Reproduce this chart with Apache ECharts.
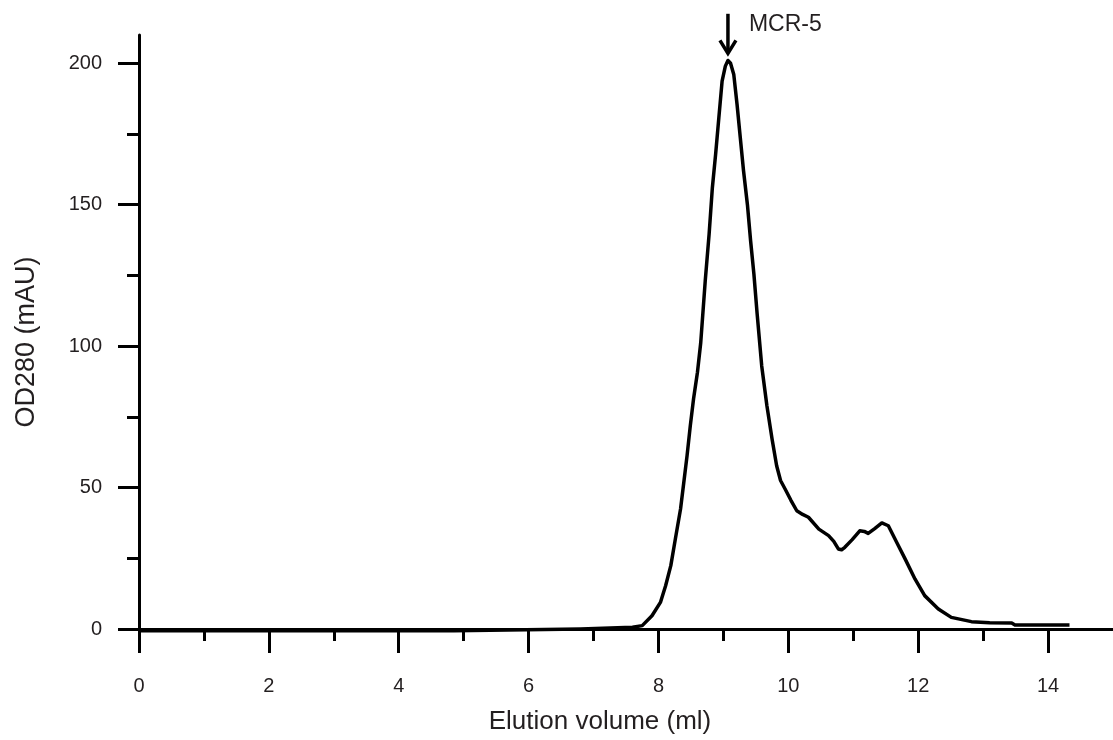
<!DOCTYPE html>
<html>
<head>
<meta charset="utf-8">
<script src="https://cdn.jsdelivr.net/npm/echarts@6/dist/echarts.min.js"></script>
<style>html,body{margin:0;padding:0;background:#fff}#c{width:1113px;height:740px}</style>
</head>
<body>
<div id="c"></div>
<script>
const volume = [0, 4.85, 4.86, 6.8, 6.81, 7.6, 7.75, 7.9, 8.03, 8.11, 8.19, 8.26, 8.34, 8.39, 8.44, 8.49, 8.54, 8.6, 8.65, 8.72, 8.78, 8.83, 8.88, 8.93, 8.98, 9.03, 9.07, 9.11, 9.16, 9.21, 9.26, 9.31, 9.37, 9.42, 9.47, 9.52, 9.59, 9.67, 9.75, 9.82, 9.88, 9.95, 10.04, 10.13, 10.22, 10.31, 10.47, 10.62, 10.7, 10.77, 10.82, 10.87, 10.98, 11.1, 11.17, 11.23, 11.33, 11.44, 11.54, 11.67, 11.8, 11.95, 12.1, 12.31, 12.51, 12.82, 13.1, 13.44, 13.49, 14.33];
const od280 = [-0.6, -0.6, 0, 0, 0.6, 0.6, 1.2, 4.7, 9.4, 15.3, 22.4, 31.8, 42.4, 51.8, 61.2, 71.8, 81.3, 90.7, 101, 123, 139.6, 156, 167.8, 180.8, 193.7, 199, 201, 200, 196, 185.5, 173.7, 162, 150, 137, 125.4, 111.3, 93, 78.9, 67.1, 57.7, 52.5, 49.5, 45.5, 41.8, 40.5, 39.5, 35.3, 33, 31, 28.3, 28, 28.9, 31.5, 34.7, 34.5, 33.8, 35.5, 37.5, 36.5, 30.6, 24.7, 17.7, 11.8, 7.1, 4.1, 2.6, 2.2, 2.1, 1.4, 1.4];
const xMajorTicks = [0, 2, 4, 6, 8, 10, 12, 14];
const xMinorTicks = [1, 3, 5, 7, 9, 11, 13];
const yMajorTicks = [0, 50, 100, 150, 200];
const yMinorTicks = [25, 75, 125, 175];
const peakLabel = 'MCR-5';
const peakVolume = 9.07;
// arrow: [volume, shaft top OD, tip OD]
const peakArrow = [[peakVolume, 217.5, 203.5]];

const FONT = 'Arial, "Liberation Sans", sans-serif';
const TXT = '#231f20';
const chart = echarts.init(document.getElementById('c'), null, {renderer: 'canvas'});
const axisLine = {show: true, lineStyle: {color: '#000', width: 3}};
const option = {
  animation: false,
  backgroundColor: '#fff',
  grid: {left: 139, right: 0, top: 35, bottom: 110, containLabel: false},
  xAxis: [{
    type: 'value', min: 0, max: 15, gridIndex: 0,
    name: 'Elution volume (ml)', nameLocation: 'middle', nameGap: 80,
    nameTextStyle: {fontFamily: FONT, fontSize: 26, color: TXT, padding: [0, 52, 0, 0]},
    axisLine: axisLine,
    axisTick: {show: true, inside: false, length: 24, customValues: xMajorTicks, lineStyle: {color: '#000', width: 3}},
    axisLabel: {show: true, customValues: xMajorTicks, margin: 47, fontFamily: FONT, fontSize: 20, color: TXT},
    splitLine: {show: false}
  }, {
    type: 'value', min: 0, max: 15, gridIndex: 0, position: 'bottom',
    axisLine: {show: false},
    axisTick: {show: true, inside: false, length: 12, customValues: xMinorTicks, lineStyle: {color: '#000', width: 3}},
    axisLabel: {show: false},
    splitLine: {show: false}
  }],
  yAxis: [{
    type: 'value', min: 0, max: 210, gridIndex: 0,
    name: 'OD280 (mAU)', nameLocation: 'middle', nameGap: 99,
    nameTextStyle: {fontFamily: FONT, fontSize: 27, color: TXT, padding: [0, 20, 0, 0]},
    axisLine: axisLine,
    axisTick: {show: true, inside: false, length: 21, customValues: yMajorTicks, lineStyle: {color: '#000', width: 3}},
    axisLabel: {show: true, customValues: yMajorTicks, margin: 37, fontFamily: FONT, fontSize: 20, color: TXT},
    splitLine: {show: false}
  }, {
    type: 'value', min: 0, max: 210, gridIndex: 0, position: 'left',
    axisLine: {show: false},
    axisTick: {show: true, inside: false, length: 12, customValues: yMinorTicks, lineStyle: {color: '#000', width: 3}},
    axisLabel: {show: false},
    splitLine: {show: false}
  }],
  series: [{
    type: 'line',
    xAxisIndex: 0, yAxisIndex: 0,
    data: volume.map((v, i) => [v, od280[i]]),
    showSymbol: false,
    symbol: 'none',
    smooth: false,
    clip: false,
    lineStyle: {color: '#000', width: 3.5, join: 'round'}
  }, {
    type: 'custom',
    xAxisIndex: 0, yAxisIndex: 0,
    clip: false,
    silent: true,
    data: peakArrow,
    renderItem: function (params, api) {
      const top = api.coord([api.value(0), api.value(1)]);
      const tip = api.coord([api.value(0), api.value(2)]);
      const st = {stroke: '#000', lineWidth: 3.5, fill: null};
      return {
        type: 'group',
        children: [
          {type: 'line', shape: {x1: top[0], y1: top[1], x2: tip[0], y2: tip[1] - 2}, style: st},
          {type: 'polyline', shape: {points: [[tip[0] - 8, tip[1] - 13], [tip[0], tip[1]], [tip[0] + 8, tip[1] - 13]]}, style: st},
          {type: 'text', x: tip[0] + 21, y: top[1] + 11, style: {text: peakLabel, font: '23px ' + FONT, fill: TXT, textAlign: 'left', textVerticalAlign: 'middle'}}
        ]
      };
    }
  }]
};
chart.setOption(option);
</script>
</body>
</html>
